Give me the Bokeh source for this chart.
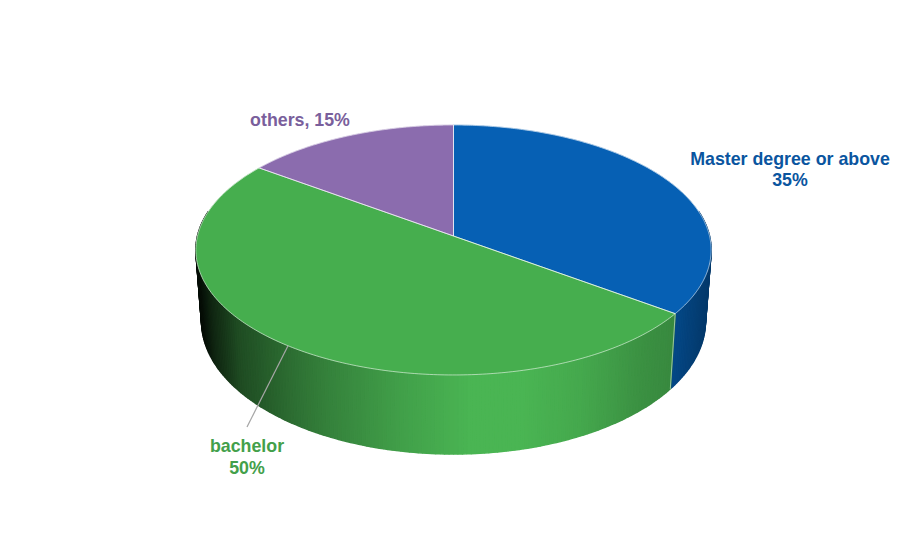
import numpy as np
from bokeh.embed import file_html
from bokeh.resources import INLINE
from bokeh.plotting import figure
from bokeh.models import Range1d, ColumnDataSource
from bokeh.core.properties import value

categories = ["Master degree or above", "bachelor", "others"]
shares = [35, 50, 15]
top_colors = ["#0660b4", "#46ae4e", "#8b6cae"]
side_colors = ["#0660b4", "#4ab553", "#8b6cae"]
label_colors = ["#0a559f", "#43a04a", "#7a5f9c"]
label_lines = [["Master degree or above", "35%"], ["bachelor", "50%"], ["others, 15%"]]
label_x = [789.5, 246.5, 299.5]
label_y = [[158.5, 179.5], [445.5, 467.5], [119.5]]

W, H = 901, 526
CX, CY, A, B, K = 453.0, 235.5, 256.0, 123.4, 0.112
DEPTH, BOTTOM_SCALE = 70.2, 0.978
SHADE_X = [196, 203, 213, 240, 290, 330, 400, 470, 520, 580, 640, 670, 700, 712]
SHADE_F = [0.06, 0.08, 0.2, 0.42, 0.6, 0.72, 0.88, 1.0, 1.0, 0.93, 0.8, 0.76, 0.62, 0.58]


def top_xy(t):
    u, v = np.sin(t), -np.cos(t)
    d = 1 - K * v
    return CX + A * u / d, CY + B * v / d


def bottom_xy(t):
    x, y = top_xy(t)
    return CX + (x - CX) * BOTTOM_SCALE, y + DEPTH / (1 + K * np.cos(t))


def shade(hex_color, f):
    r, g, b = (int(hex_color[i:i + 2], 16) for i in (1, 3, 5))
    return "#%02x%02x%02x" % (round(r * f), round(g * f), round(b * f))


p = figure(width=W, height=H, x_range=Range1d(0, W), y_range=Range1d(H, 0),
           output_backend="svg", toolbar_location=None, min_border=0,
           x_axis_location=None, y_axis_location=None)
p.grid.visible = False
p.outline_line_color = None
p.background_fill_color = "white"

edges = np.cumsum([0] + shares) / sum(shares) * 2 * np.pi

# side wall: narrow strips, painted back to front
strips = []
for i, c in enumerate(side_colors):
    n = max(2, int(shares[i] * 4))
    ts = np.linspace(edges[i], edges[i + 1], n + 1)
    for t0, t1 in zip(ts[:-1], ts[1:]):
        tm = (t0 + t1) / 2
        if -np.cos(tm) < -0.2:
            continue
        x0, y0 = top_xy(np.array([t0, t1]))
        x1, y1 = bottom_xy(np.array([t1, t0]))
        xm = (x0.mean() + x1.mean()) / 2
        f = float(np.interp(xm, SHADE_X, SHADE_F))
        strips.append((-np.cos(tm), list(x0) + list(x1), list(y0) + list(y1), shade(c, f)))
strips.sort(key=lambda s: s[0])
src = ColumnDataSource(dict(xs=[s[1] for s in strips], ys=[s[2] for s in strips],
                            c=[s[3] for s in strips]))
p.patches("xs", "ys", source=src, fill_color="c", line_color="c", line_width=1.5)

# seam on the wall between first and second slice
sx0, sy0 = top_xy(edges[1])
sx1, sy1 = bottom_xy(edges[1])
p.line([sx0, sx1], [sy0, sy1], line_color="#ffffff", line_alpha=0.5, line_width=1)

# top face
for i, c in enumerate(top_colors):
    ts = np.linspace(edges[i], edges[i + 1], 240)
    x, y = top_xy(ts)
    p.patch([CX] + list(x), [CY] + list(y), fill_color=c, line_color=c, line_width=0.5)
for i in range(len(shares)):
    ts = np.linspace(edges[i], edges[i + 1], 240)
    x, y = top_xy(ts)
    p.line([CX] + list(x) + [CX], [CY] + list(y) + [CY], line_color="#ffffff",
           line_alpha=0.55, line_width=1)

# leader of the middle slice
tm = (edges[1] + edges[2]) / 2
lx, ly = top_xy(tm)
p.line([lx, label_x[1]], [ly, label_y[1][0] - 19], line_color="#a6a6a6", line_width=1.2)

for lines, x, ys, c in zip(label_lines, label_x, label_y, label_colors):
    p.text(x=[x] * len(lines), y=ys, text=lines, text_color=c, text_align="center",
           text_baseline="middle", text_font=value("Liberation Sans"),
           text_font_style="bold", text_font_size="17.8px")

open("out.html", "w").write(file_html(p, INLINE))
